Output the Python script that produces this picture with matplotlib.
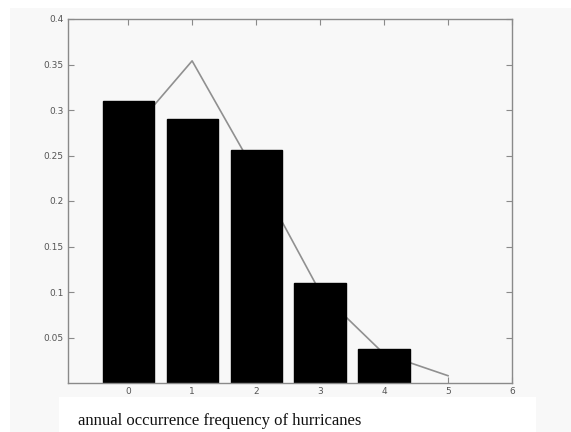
import numpy as np
import matplotlib
matplotlib.use("Agg")
import matplotlib.pyplot as plt
from matplotlib.patches import Rectangle

# observed frequency of hurricanes per year (bars) and fitted model (line)
counts = [0, 1, 2, 3, 4]
observed = [0.31, 0.29, 0.256, 0.11, 0.037]
fit_counts = [0, 1, 2, 3, 4, 5]
fitted = [0.272, 0.354, 0.230, 0.100, 0.032, 0.008]

xticks = [0, 1, 2, 3, 4, 5, 6]
yticks = [0.05, 0.1, 0.15, 0.2, 0.25, 0.3, 0.35, 0.4]
caption = "annual occurrence frequency of hurricanes"

W, H = 571, 432
fig = plt.figure(figsize=(W / 100, H / 100), dpi=100, facecolor="white")

# light grey page behind the plot, white strip behind the caption
fig.patches.append(Rectangle((10 / W, 0), 1, 1 - 8 / H, transform=fig.transFigure,
                             facecolor="#f8f8f8", edgecolor="none", zorder=-10))
fig.patches.append(Rectangle((59 / W, 0), (536 - 59) / W, 35 / H,
                             transform=fig.transFigure,
                             facecolor="white", edgecolor="none", zorder=-9))

ax = fig.add_axes([68 / W, (H - 383) / H, (512 - 68) / W, (383 - 19) / H])
ax.set_facecolor("#f8f8f8")

ax.plot(fit_counts, fitted, color="#909090", linewidth=1.2, zorder=1)
ax.bar(counts, observed, width=0.8, color="black", edgecolor="black", zorder=2)

ax.set_xlim(-0.94, 6)
ax.set_ylim(0, 0.4)
ax.set_xticks(xticks)
ax.set_xticklabels([str(v) for v in xticks])
ax.set_yticks(yticks)
ax.set_yticklabels(["0.05", "0.1", "0.15", "0.2", "0.25", "0.3", "0.35", "0.4"])

ax.tick_params(direction="in", top=True, right=True, length=4, width=0.8,
               color="#8a8a8a", labelsize=6.5, labelcolor="#555555", pad=3)
for s in ax.spines.values():
    s.set_color("#8a8a8a")
    s.set_linewidth(1.0)

fig.text(78 / W, (H - 425) / H, caption, family="Liberation Serif",
         fontsize=12, color="#111111", ha="left", va="baseline")

fig.savefig("out.png", dpi=100, facecolor=fig.get_facecolor())
